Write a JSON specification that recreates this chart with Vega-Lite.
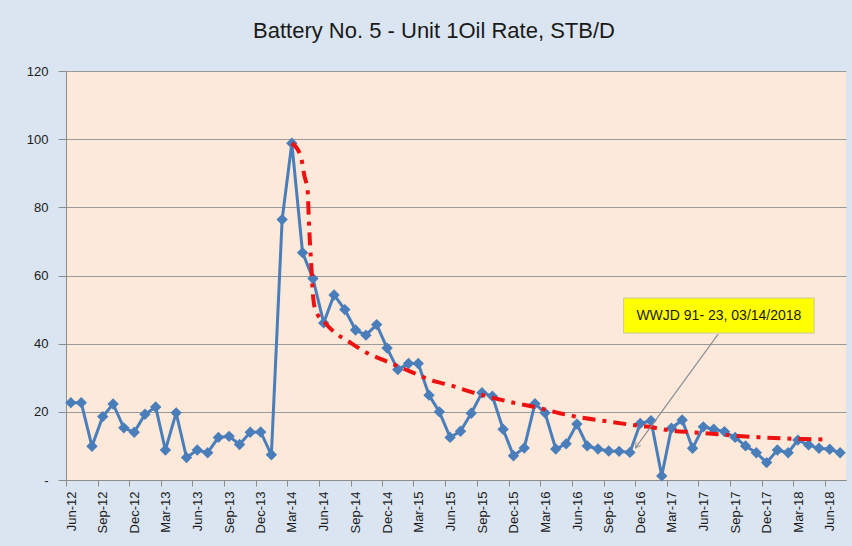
{
  "$schema": "https://vega.github.io/schema/vega-lite/v6.json",
  "width": 780,
  "height": 409,
  "autosize": {"type": "none"},
  "padding": {"left": 66, "top": 71, "right": 6, "bottom": 66},
  "background": "#dbe5f1",
  "config": {
    "view": {"fill": "#fde9d9", "stroke": null},
    "font": "Liberation Sans",
    "axis": {"labelOverlap": false}
  },
  "title": {
    "text": "Battery No. 5 - Unit 1Oil Rate, STB/D",
    "fontSize": 22,
    "fontWeight": "normal",
    "font": "Liberation Sans",
    "color": "#1a1a1a",
    "anchor": "middle",
    "dx": -22,
    "offset": 22
  },
  "datasets": {
    "oil": [
      {"date": "2012-06-15", "rate": 22.7},
      {"date": "2012-07-15", "rate": 22.7},
      {"date": "2012-08-15", "rate": 9.9},
      {"date": "2012-09-15", "rate": 18.6},
      {"date": "2012-10-15", "rate": 22.3},
      {"date": "2012-11-15", "rate": 15.3},
      {"date": "2012-12-15", "rate": 14.0},
      {"date": "2013-01-15", "rate": 19.3},
      {"date": "2013-02-15", "rate": 21.4},
      {"date": "2013-03-15", "rate": 8.8},
      {"date": "2013-04-15", "rate": 19.7},
      {"date": "2013-05-15", "rate": 6.6},
      {"date": "2013-06-15", "rate": 8.8},
      {"date": "2013-07-15", "rate": 8.0},
      {"date": "2013-08-15", "rate": 12.5},
      {"date": "2013-09-15", "rate": 12.8},
      {"date": "2013-10-15", "rate": 10.4},
      {"date": "2013-11-15", "rate": 14.0},
      {"date": "2013-12-15", "rate": 14.1},
      {"date": "2014-01-15", "rate": 7.4},
      {"date": "2014-02-15", "rate": 76.4},
      {"date": "2014-03-15", "rate": 98.8},
      {"date": "2014-04-15", "rate": 66.7},
      {"date": "2014-05-15", "rate": 59.1},
      {"date": "2014-06-15", "rate": 46.1},
      {"date": "2014-07-15", "rate": 54.3},
      {"date": "2014-08-15", "rate": 50.0},
      {"date": "2014-09-15", "rate": 44.0},
      {"date": "2014-10-15", "rate": 42.5},
      {"date": "2014-11-15", "rate": 45.6},
      {"date": "2014-12-15", "rate": 38.7},
      {"date": "2015-01-15", "rate": 32.4},
      {"date": "2015-02-15", "rate": 34.2},
      {"date": "2015-03-15", "rate": 34.2},
      {"date": "2015-04-15", "rate": 24.9},
      {"date": "2015-05-15", "rate": 20.0},
      {"date": "2015-06-15", "rate": 12.5},
      {"date": "2015-07-15", "rate": 14.3},
      {"date": "2015-08-15", "rate": 19.6},
      {"date": "2015-09-15", "rate": 25.6},
      {"date": "2015-10-15", "rate": 24.6},
      {"date": "2015-11-15", "rate": 14.9},
      {"date": "2015-12-15", "rate": 7.1},
      {"date": "2016-01-15", "rate": 9.4},
      {"date": "2016-02-15", "rate": 22.4},
      {"date": "2016-03-15", "rate": 19.7},
      {"date": "2016-04-15", "rate": 9.1},
      {"date": "2016-05-15", "rate": 10.6},
      {"date": "2016-06-15", "rate": 16.4},
      {"date": "2016-07-15", "rate": 10.0},
      {"date": "2016-08-15", "rate": 9.1},
      {"date": "2016-09-15", "rate": 8.5},
      {"date": "2016-10-15", "rate": 8.4},
      {"date": "2016-11-15", "rate": 8.1},
      {"date": "2016-12-15", "rate": 16.6},
      {"date": "2017-01-15", "rate": 17.4},
      {"date": "2017-02-15", "rate": 1.2},
      {"date": "2017-03-15", "rate": 15.2},
      {"date": "2017-04-15", "rate": 17.6},
      {"date": "2017-05-15", "rate": 9.3},
      {"date": "2017-06-15", "rate": 15.6},
      {"date": "2017-07-15", "rate": 14.9},
      {"date": "2017-08-15", "rate": 14.2},
      {"date": "2017-09-15", "rate": 12.5},
      {"date": "2017-10-15", "rate": 10.0},
      {"date": "2017-11-15", "rate": 8.0},
      {"date": "2017-12-15", "rate": 5.1},
      {"date": "2018-01-15", "rate": 8.8},
      {"date": "2018-02-15", "rate": 8.0},
      {"date": "2018-03-15", "rate": 11.7},
      {"date": "2018-04-15", "rate": 10.3},
      {"date": "2018-05-15", "rate": 9.3},
      {"date": "2018-06-15", "rate": 9.0},
      {"date": "2018-07-15", "rate": 8.0}
    ],
    "trend": [
      {"date": "2014-03-15", "rate": 98.8},
      {"date": "2014-04-09", "rate": 95.3},
      {"date": "2014-04-20", "rate": 89.4},
      {"date": "2014-04-30", "rate": 84.5},
      {"date": "2014-05-03", "rate": 76.7},
      {"date": "2014-05-07", "rate": 68.4},
      {"date": "2014-05-11", "rate": 61.6},
      {"date": "2014-05-14", "rate": 55.7},
      {"date": "2014-05-22", "rate": 49.9},
      {"date": "2014-06-20", "rate": 46.0},
      {"date": "2014-07-14", "rate": 43.5},
      {"date": "2014-08-22", "rate": 40.9},
      {"date": "2014-10-09", "rate": 37.8},
      {"date": "2014-12-16", "rate": 34.7},
      {"date": "2015-02-21", "rate": 31.8},
      {"date": "2015-04-20", "rate": 29.3},
      {"date": "2015-06-22", "rate": 27.6},
      {"date": "2015-08-16", "rate": 25.8},
      {"date": "2015-10-21", "rate": 24.0},
      {"date": "2015-12-23", "rate": 22.5},
      {"date": "2016-02-24", "rate": 21.2},
      {"date": "2016-04-26", "rate": 19.6},
      {"date": "2016-06-28", "rate": 18.3},
      {"date": "2016-09-04", "rate": 17.3},
      {"date": "2016-11-11", "rate": 16.3},
      {"date": "2017-01-08", "rate": 15.6},
      {"date": "2017-03-15", "rate": 14.5},
      {"date": "2017-05-17", "rate": 14.0},
      {"date": "2017-07-19", "rate": 13.5},
      {"date": "2017-09-25", "rate": 12.9},
      {"date": "2017-12-01", "rate": 12.5},
      {"date": "2018-02-03", "rate": 12.2},
      {"date": "2018-04-05", "rate": 12.0},
      {"date": "2018-06-12", "rate": 11.9}
    ],
    "note": [
      {"label": "WWJD 91- 23, 03/14/2018", "boxStart": "2016-10-28", "boxEnd": "2018-05-01", "boxLow": 43.1, "boxHigh": 53.4, "textDate": "2017-07-30", "textRate": 48.1, "lineStart": "2017-07-28", "lineStartRate": 42.8, "lineEnd": "2016-12-01", "lineEndRate": 9.4}
    ]
  },
  "layer": [
    {
      "data": {"name": "oil"},
      "mark": {
        "type": "line",
        "color": "#4a7ebb",
        "strokeWidth": 3,
        "point": {"shape": "diamond", "size": 130, "filled": true, "color": "#4a7ebb"}
      },
      "encoding": {
        "x": {
          "field": "date",
          "type": "temporal",
          "scale": {
            "type": "utc",
            "domain": [1338508800000, 1533081600000]
          },
          "axis": {
            "title": null,
            "labelExpr": "utcFormat(datum.value, '%b-%y')",
            "labelAngle": -90,
            "labelOffset": 5,
            "labelPadding": 5,
            "labelFontSize": 13,
            "labelOverlap": false,
            "labelSeparation": 0,
            "labelColor": "#1a1a1a",
            "labelFont": "Liberation Sans",
            "tickCount": 40,
            "tickSize": 6,
            "tickColor": "#8c8c8c",
            "domainColor": "#8c8c8c",
            "grid": false,
            "values": [1338508800000, 1346457600000, 1354320000000, 1362096000000, 1370044800000, 1377993600000, 1385856000000, 1393632000000, 1401580800000, 1409529600000, 1417392000000, 1425168000000, 1433116800000, 1441065600000, 1448928000000, 1456790400000, 1464739200000, 1472688000000, 1480550400000, 1488326400000, 1496275200000, 1504224000000, 1512086400000, 1519862400000, 1527811200000]
          }
        },
        "y": {
          "field": "rate",
          "type": "quantitative",
          "scale": {"domain": [0, 120], "nice": false},
          "axis": {
            "title": null,
            "values": [0, 20, 40, 60, 80, 100, 120],
            "labelExpr": "datum.value == 0 ? '-' : datum.label",
            "labelFontSize": 13,
            "labelColor": "#1a1a1a",
            "labelFont": "Liberation Sans",
            "labelPadding": 10,
            "tickSize": 8,
            "tickColor": "#8c8c8c",
            "domainColor": "#8c8c8c",
            "grid": true,
            "gridColor": "#9a9a9a",
            "gridWidth": 1
          }
        }
      }
    },
    {
      "data": {"name": "trend"},
      "mark": {
        "type": "line",
        "color": "#ee1111",
        "strokeWidth": 4,
        "strokeDash": [13, 7, 4, 7],
        "interpolate": "monotone"
      },
      "encoding": {
        "x": {"field": "date", "type": "temporal"},
        "y": {"field": "rate", "type": "quantitative"}
      }
    },
    {
      "data": {"name": "note"},
      "mark": {"type": "rule", "color": "#8a8f99", "strokeWidth": 1.2},
      "encoding": {
        "x": {"field": "lineStart", "type": "temporal"},
        "x2": {"field": "lineEnd"},
        "y": {"field": "lineStartRate", "type": "quantitative"},
        "y2": {"field": "lineEndRate"}
      }
    },
    {
      "data": {"name": "note"},
      "mark": {
        "type": "point",
        "shape": "M -0.55 -1 L 0 0 L 0.55 -1",
        "filled": false,
        "stroke": "#8a8f99",
        "strokeWidth": 1.2,
        "size": 110,
        "angle": 36
      },
      "encoding": {
        "x": {"field": "lineEnd", "type": "temporal"},
        "y": {"field": "lineEndRate", "type": "quantitative"}
      }
    },
    {
      "data": {"name": "note"},
      "mark": {"type": "rect", "fill": "#ffff00", "stroke": "#c8c8a0", "strokeWidth": 1},
      "encoding": {
        "x": {"field": "boxStart", "type": "temporal"},
        "x2": {"field": "boxEnd"},
        "y": {"field": "boxLow", "type": "quantitative"},
        "y2": {"field": "boxHigh"}
      }
    },
    {
      "data": {"name": "note"},
      "mark": {"type": "text", "fontSize": 14, "font": "Liberation Sans", "color": "#1a1a1a", "align": "center", "baseline": "middle"},
      "encoding": {
        "x": {"field": "textDate", "type": "temporal"},
        "y": {"field": "textRate", "type": "quantitative"},
        "text": {"field": "label"}
      }
    }
  ]
}
